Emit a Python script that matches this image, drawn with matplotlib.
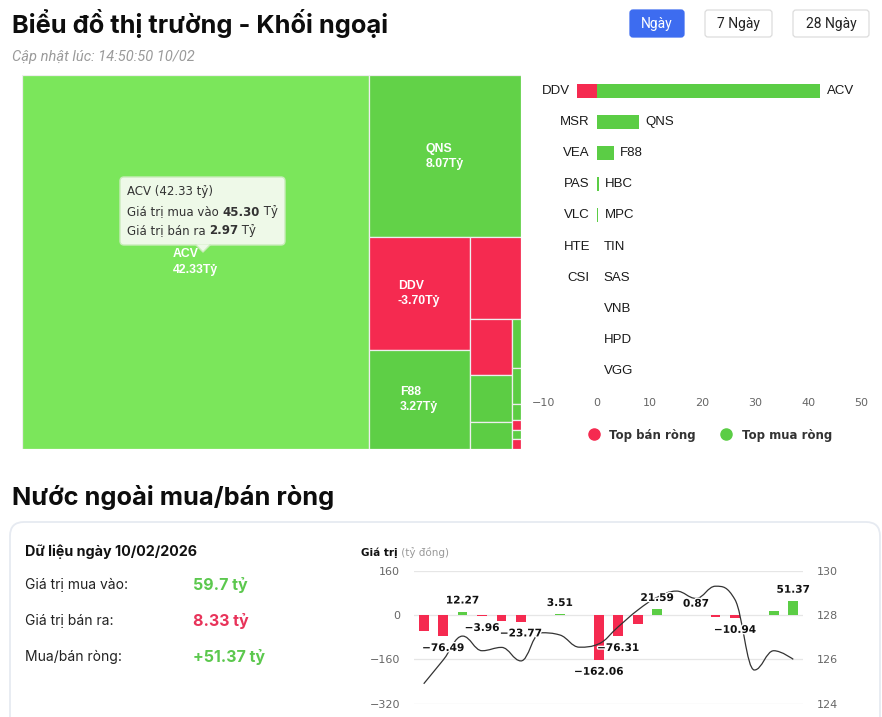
import numpy as np
import matplotlib
matplotlib.use('Agg')
import matplotlib.pyplot as plt
from matplotlib.patches import FancyBboxPatch, Rectangle, Polygon, PathPatch
from matplotlib.path import Path
from matplotlib.lines import Line2D
from matplotlib.colors import LinearSegmentedColormap
import matplotlib.patheffects as pe

plt.rcParams['font.family'] = ['DejaVu Sans']
plt.rcParams['axes.unicode_minus'] = True

# ---------------- data ----------------
tm_names = ['ACV', 'QNS', 'DDV', 'F88', 'MSR', 'VEA', 'HBC', 'MPC',
            'TIN', 'SAS', 'VNB', 'PAS', 'HPD', 'VLC']
tm_values = [42.33, 8.07, -3.70, 3.27, -1.38, -0.76, 0.65, 0.37,
             0.15, 0.11, 0.05, -0.03, 0.03, -0.03]
tip_buy = 45.30
tip_sell = 2.97

sell_names = ['DDV', 'MSR', 'VEA', 'PAS', 'VLC', 'HTE', 'CSI', '', '', '']
sell_vals = [-3.70, 0, 0, 0, 0, 0, 0, 0, 0, 0]
buy_names = ['ACV', 'QNS', 'F88', 'HBC', 'MPC', 'TIN', 'SAS', 'VNB', 'HPD', 'VGG']
buy_vals = [42.33, 8.07, 3.27, 0.35, 0.3, 0.08, 0.08, 0.08, 0.08, 0.08]

day_label = '10/02/2026'
buy_total = '59.7'
sell_total = '8.33'
net_total = '+51.37'

nan = np.nan
net_flow = [-58, -76.49, 12.27, -3.96, -20, -23.77, nan, 3.51, nan, -162.06,
            -76.31, -32.5, 21.59, 0.87, nan, -8, -10.94, nan, 14, 51.37]
labelled = [1, 2, 3, 5, 7, 9, 10, 12, 13, 16, 19]
index_line = [124.9, 125.97, 127.05, 126.39, 126.54, 125.93, 127.2, 127.1, 126.55, 126.7,
              127.47, 128.22, 128.8, 129.08, 128.75, 129.3, 128.7, 125.52, 126.39, 126.0]

RED = '#f52a50'
GREEN = '#5bcd45'
FW, FH = 882, 717


def px_axes(fig, x0, y0, x1, y1, **kw):
    return fig.add_axes([x0 / FW, 1 - y1 / FH, (x1 - x0) / FW, (y1 - y0) / FH], **kw)


# Highcharts "squarified" (low aspect ratio with direction change)
class Group:
    def __init__(self, h, w, d):
        self.height, self.width, self.direction = h, w, d
        self.total = 0.0
        self.nW = self.lW = self.nH = self.lH = 0.0
        self.el = []
        self.nR = self.lR = nan

    def add(self, el):
        lp = self.el[-1] if self.el else nan
        self.total += el
        ratio = lambda a, b: max(a / b, b / a) if a > 0 and b > 0 else nan
        with np.errstate(all='ignore'):
            if self.direction == 0:
                self.lW = self.nW
                lH = lp / self.lW if self.lW else nan
                self.lR = ratio(self.lW, lH)
                self.nW = self.total / self.height
                nH = lp / self.nW
                self.nR = ratio(self.nW, nH)
            else:
                self.lH = self.nH
                lW = lp / self.lH if self.lH else nan
                self.lR = ratio(lW, self.lH)
                self.nH = self.total / self.width
                nW = lp / self.nH
                self.nR = ratio(nW, self.nH)
        self.el.append(el)

    def reset(self):
        self.nW = self.lW = 0.0
        self.el = []
        self.total = 0.0


def squarified(values, W, H):
    tot = sum(values)
    areas = [W * H * v / tot for v in values]
    g = Group(H, W, 0)
    plot = {'x': 0.0, 'y': 0.0}
    rects = []

    def calc(last):
        gW, gH = (g.nW, g.nH) if last else (g.lW, g.lH)
        keep = None if last else g.el[-1]
        end = len(g.el) - 1
        for i, p in enumerate(g.el):
            if last or i < end:
                if g.direction == 0:
                    w, h = gW, p / gW
                else:
                    h, w = gH, p / gH
                rects.append((plot['x'], plot['y'], w, h))
                if g.direction == 0:
                    plot['y'] += h
                else:
                    plot['x'] += w
        g.reset()
        if g.direction == 0:
            g.width -= gW
        else:
            g.height -= gH
        plot['y'] = H - g.height
        plot['x'] = W - g.width
        g.direction = 1 - g.direction
        if not last:
            g.add(keep)

    for i, a in enumerate(areas):
        g.add(a)
        if g.nR > g.lR:
            calc(False)
        if i == len(areas) - 1:
            calc(True)
    return rects


def hc_spline(xs, ys, smoothing=1.5):
    n = len(xs)
    ctrl = []
    for i in range(n):
        x, y = xs[i], ys[i]
        if i == 0 or i == n - 1:
            ctrl.append(((x, y), (x, y)))
            continue
        lx, ly, nx, ny = xs[i - 1], ys[i - 1], xs[i + 1], ys[i + 1]
        d = smoothing + 1
        lcx, lcy = (smoothing * x + lx) / d, (smoothing * y + ly) / d
        rcx, rcy = (smoothing * x + nx) / d, (smoothing * y + ny) / d
        corr = (rcy - lcy) * (rcx - x) / (rcx - lcx) + y - rcy
        lcy += corr
        rcy += corr
        if lcy > ly and lcy > y:
            lcy = max(ly, y); rcy = 2 * y - lcy
        elif lcy < ly and lcy < y:
            lcy = min(ly, y); rcy = 2 * y - lcy
        if rcy > ny and rcy > y:
            rcy = max(ny, y); lcy = 2 * y - rcy
        elif rcy < ny and rcy < y:
            rcy = min(ny, y); lcy = 2 * y - rcy
        ctrl.append(((lcx, lcy), (rcx, rcy)))
    verts = [(xs[0], ys[0])]
    codes = [Path.MOVETO]
    for i in range(1, n):
        verts += [ctrl[i - 1][1], ctrl[i][0], (xs[i], ys[i])]
        codes += [Path.CURVE4] * 3
    return Path(verts, codes)


fig = plt.figure(figsize=(FW / 100, FH / 100), dpi=100)
fig.patch.set_facecolor('white')

# background layer (titles, buttons, card)
bg = fig.add_axes([0, 0, 1, 1], zorder=-5)
bg.set_xlim(0, FW)
bg.set_ylim(FH, 0)
bg.axis('off')

bg.text(12, 24, 'Biểu đồ thị trường - Khối ngoại', fontsize=18.3, fontweight='bold',
        family=['Inter', 'DejaVu Sans'], va='center', color='#0d0d0d')
bg.text(12, 57, 'Cập nhật lúc: 14:50:50 10/02', fontsize=10.5, style='italic',
        family=['Roboto', 'DejaVu Sans'], va='center', color='#9a9a9a')

buttons = ['Ngày', '7 Ngày', '28 Ngày']
for i, (lab, x0, x1) in enumerate(zip(buttons, [630, 705, 793], [684, 772, 869])):
    active = i == 0
    bg.add_patch(FancyBboxPatch((x0, 10), x1 - x0, 27, boxstyle='round,pad=0,rounding_size=3',
                                facecolor='#3d6cf0' if active else 'white',
                                edgecolor='#3d6cf0' if active else '#dcdcdc', lw=0.9))
    bg.text((x0 + x1) / 2, 24, lab, ha='center', va='center', fontsize=10,
            family=['Roboto', 'DejaVu Sans'], color='white' if active else '#222')

bg.text(12, 497, 'Nước ngoài mua/bán ròng', fontsize=18.3, fontweight='bold',
        family=['Inter', 'DejaVu Sans'], va='center', color='#0d0d0d')
bg.add_patch(FancyBboxPatch((10, 522), 870, 230, boxstyle='round,pad=0,rounding_size=14',
                            facecolor='white', edgecolor='#e6eaf1', lw=1.3))

bg.text(25, 552, f'Dữ liệu ngày {day_label}', fontsize=10.3, fontweight='bold',
        family=['Inter', 'DejaVu Sans'], va='center', color='#111')
rows = [('Giá trị mua vào:', buy_total + ' tỷ', '#5cc84e'),
        ('Giá trị bán ra:', sell_total + ' tỷ', '#e8335a'),
        ('Mua/bán ròng:', net_total + ' tỷ', '#5cc84e')]
for k, (lab, val, col) in enumerate(rows):
    y = 585 + 36 * k
    bg.text(25, y, lab, fontsize=10, family=['Inter', 'DejaVu Sans'], va='center', color='#222')
    bg.text(193, y, val, fontsize=11.5, fontweight='bold', family=['Inter', 'DejaVu Sans'],
            va='center', color=col)

t1 = bg.text(361, 553, 'Giá trị', fontsize=7.5, fontweight='bold', va='center', color='#111')
bg.annotate(' (tỷ đồng)', xy=(1, 0), xycoords=t1, va='bottom', fontsize=7.5, color='#999')

# ---------------- treemap ----------------
tx0, ty0, tx1, ty1 = 22, 75, 521, 449
tw, th = tx1 - tx0, ty1 - ty0
axt = px_axes(fig, tx0, ty0, tx1, ty1)
axt.set_xlim(0, tw)
axt.set_ylim(th, 0)
axt.axis('off')
rects = squarified([abs(v) for v in tm_values], tw, th)
vmax = max(tm_values)
gcmap = LinearSegmentedColormap.from_list('g', ['#5ccd44', '#7be65b'])
for (x, y, w, h), name, v in zip(rects, tm_names, tm_values):
    col = RED if v < 0 else gcmap(v / vmax)
    axt.add_patch(Rectangle((x, y), w, h, facecolor=col, edgecolor='#eeeeee', lw=0.9))
    if w > 60 and h > 40:
        axt.text(x + w / 2, y + h / 2, f'{name}\n{v:.2f}Tỷ', ha='center', va='center',
                 multialignment='left', color='white', fontsize=8.8, fontweight='bold',
                 family=['Liberation Sans Narrow', 'Liberation Sans'], linespacing=1.35)

# tooltip for ACV
tip = fig.add_axes([0, 0, 1, 1], zorder=20)
tip.set_xlim(0, FW)
tip.set_ylim(FH, 0)
tip.axis('off')
tip.patch.set_alpha(0)
tip_face = '#eef9e8'
tip_edge = '#c9ecbb'
tip.add_patch(FancyBboxPatch((120, 177), 165, 68, boxstyle='round,pad=0,rounding_size=4',
                             facecolor=tip_face, edgecolor=tip_edge, lw=1))
tip.add_patch(Polygon([(196, 244.5), (203, 252), (210, 244.5)], closed=True,
                      facecolor=tip_face, edgecolor='none'))
tip.plot([196, 203, 210], [245, 252, 245], color=tip_edge, lw=1)
tfont = dict(fontsize=8.5, color='#333')
tip.text(127, 192, f'{tm_names[0]} ({tm_values[0]:.2f} tỷ)', va='center', **tfont)
for k, (lab, val) in enumerate([('Giá trị mua vào ', tip_buy), ('Giá trị bán ra ', tip_sell)]):
    a = tip.text(127, 212 + 18.5 * k, lab, va='center', **tfont)
    b = tip.annotate(f'{val:.2f}', xy=(1, 0), xycoords=a, va='bottom', fontweight='bold', **tfont)
    tip.annotate(' Tỷ', xy=(1, 0), xycoords=b, va='bottom', **tfont)

# ---------------- top buyers / sellers bars ----------------
axb = px_axes(fig, 544, 75, 861, 387)
n = len(buy_names)
pos = np.arange(n)
axb.barh(pos, sell_vals, height=0.45, color=RED)
axb.barh(pos, buy_vals, height=0.45, color=GREEN)
axb.set_xlim(-10, 50)
axb.set_ylim(n - 0.5, -0.5)
axb.set_xticks([-10, 0, 10, 20, 30, 40, 50])
axb.set_yticks([])
axb.tick_params(axis='x', length=0, pad=8, labelsize=8, labelcolor='#666')
for s in axb.spines.values():
    s.set_visible(False)
lfont = dict(fontsize=9.5, color='#1a1a1a', family=['Liberation Sans Narrow', 'Liberation Sans'])
for i in range(n):
    if sell_names[i]:
        axb.annotate(sell_names[i], xy=(min(sell_vals[i], 0), i), xytext=(-5, 0),
                     textcoords='offset points', ha='right', va='center', **lfont)
    axb.annotate(buy_names[i], xy=(max(buy_vals[i], 0), i), xytext=(4.5, 0),
                 textcoords='offset points', ha='left', va='center', **lfont)

handles = [Line2D([], [], marker='o', ls='none', markersize=8, color=RED, label='Top bán ròng'),
           Line2D([], [], marker='o', ls='none', markersize=8, color=GREEN, label='Top mua ròng')]
fig.legend(handles=handles, loc='center', bbox_to_anchor=(707 / FW, 1 - 435 / FH), ncol=2,
           frameon=False, handletextpad=0.3, columnspacing=1.6,
           prop=dict(size=8.5, weight='bold'), labelcolor='#333')

# ---------------- net flow chart ----------------
axn = px_axes(fig, 414, 570.7, 803, 703.7)
x = np.arange(len(net_flow))
vals = np.array(net_flow, dtype=float)
axn.bar(x, vals, width=0.5, color=[RED if v < 0 else GREEN for v in np.nan_to_num(vals)], zorder=3)
axn.set_xlim(-0.5, len(net_flow) - 0.5)
axn.set_ylim(-320, 160)
axn.set_yticks([-320, -160, 0, 160])
axn.set_xticks([])
axn.grid(axis='y', color='#e6e6e6', lw=0.9, zorder=0)
axn.tick_params(axis='y', length=0, pad=10, labelsize=8, labelcolor='#666')
for s in axn.spines.values():
    s.set_visible(False)

ax2 = axn.twinx()
ax2.set_ylim(124, 130)
ax2.set_yticks([124, 126, 128, 130])
ax2.tick_params(axis='y', length=0, pad=10, labelsize=8, labelcolor='#666')
for s in ax2.spines.values():
    s.set_visible(False)
ax2.add_patch(PathPatch(hc_spline(list(x.astype(float)), index_line), fill=False,
                        edgecolor='#333', lw=0.9))

# value labels on top of the line; one nudged sideways to avoid overlap
nudge = {13: 14}
for i in labelled:
    v = vals[i]
    ax2.annotate(f'{v:.2f}'.replace('-', '\u2212'), xy=(i, v), xycoords=axn.transData,
                 xytext=(nudge.get(i, 0), 8 if v >= 0 else -8.5), textcoords='offset points',
                 ha='center', va='center', fontsize=7.6, fontweight='bold', color='#111', zorder=6,
                 path_effects=[pe.withStroke(linewidth=2, foreground='white')])

fig.savefig('out.png', dpi=100, facecolor='white')
